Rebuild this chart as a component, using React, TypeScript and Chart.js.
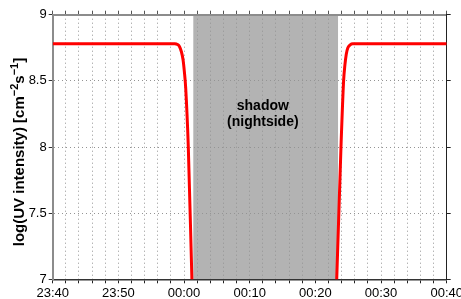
import React, { useEffect, useRef } from 'react';
import { Chart, registerables } from 'chart.js';
Chart.register(...registerables);

// minutes since 23:40
const times = [0, 10, 18.6, 19.0, 19.3, 19.6, 19.85, 20.05, 20.25, 20.65, 21.2, 21.5, 43.0, 43.25, 43.9, 44.3, 44.5, 44.7, 44.95, 45.3, 45.7, 50, 60];
const logUV = [8.78, 8.78, 8.78, 8.775, 8.76, 8.72, 8.66, 8.57, 8.45, 8.0, 7.0, 6.5, 6.5, 7.0, 8.0, 8.5, 8.62, 8.7, 8.75, 8.772, 8.78, 8.78, 8.78];
const xTickLabels = ['23:40', '23:50', '00:00', '00:10', '00:20', '00:30', '00:40'];
const yTickValues = [7, 7.5, 8, 8.5, 9];
const shadowRange = [21.41, 43.45];
const annotationLines = ['shadow', '(nightside)'];
const annotationX = 32;
const annotationY = [8.31, 8.185];

const FONT = "'Liberation Sans', Arial, Helvetica, sans-serif";

const decoPlugin = {
  id: 'deco',
  beforeDraw(chart: any) {
    const { ctx, chartArea, scales } = chart;
    ctx.save();
    ctx.fillStyle = '#ffffff';
    ctx.fillRect(0, 0, chart.width, chart.height);
    const x0 = scales.x.getPixelForValue(shadowRange[0]);
    const x1 = scales.x.getPixelForValue(shadowRange[1]);
    ctx.fillStyle = '#b3b3b3';
    ctx.fillRect(x0, chartArea.top, x1 - x0, chartArea.bottom - chartArea.top);
    ctx.restore();
  },
  afterDraw(chart: any) {
    const { ctx, chartArea, scales } = chart;
    ctx.save();
    ctx.fillStyle = '#000';
    ctx.font = `bold 14px ${FONT}`;
    ctx.textAlign = 'center';
    ctx.textBaseline = 'middle';
    annotationLines.forEach((t, i) => {
      ctx.fillText(t, scales.x.getPixelForValue(annotationX), scales.y.getPixelForValue(annotationY[i]));
    });
    // y axis title with superscripts
    const parts: [string, boolean][] = [
      ['log(UV intensity) [cm', false],
      ['\u22122', true],
      ['s', false],
      ['\u22121', true],
      [']', false],
    ];
    const mainFont = `bold 15px ${FONT}`;
    const supFont = `bold 11px ${FONT}`;
    let total = 0;
    parts.forEach(([t, sup]) => {
      ctx.font = sup ? supFont : mainFont;
      total += ctx.measureText(t).width;
    });
    const cy = (chartArea.top + chartArea.bottom) / 2 + 5;
    ctx.translate(24, cy);
    ctx.rotate(-Math.PI / 2);
    ctx.textAlign = 'left';
    ctx.textBaseline = 'alphabetic';
    let x = -total / 2;
    parts.forEach(([t, sup]) => {
      ctx.font = sup ? supFont : mainFont;
      ctx.fillText(t, x, sup ? -6 : 0);
      x += ctx.measureText(t).width;
    });
    ctx.restore();
  },
};

export default function App() {
  const ref = useRef<HTMLCanvasElement>(null);
  useEffect(() => {
    document.body.style.margin = '0';
    document.body.style.overflow = 'hidden';
    const fixX = (h: number) => (s: any) => {
      s.height = h;
      s.paddingLeft = 0;
      s.paddingRight = 0;
    };
    const fixY = (w: number) => (s: any) => {
      s.width = w;
      s.paddingTop = 0;
      s.paddingBottom = 0;
    };
    const gridDotted = { color: '#949494', lineWidth: 1, drawOnChartArea: true };
    const chart = new Chart(ref.current!, {
      type: 'line',
      data: {
        datasets: [
          {
            data: times.map((t, i) => ({ x: t, y: logUV[i] })),
            borderColor: '#ff0000',
            borderWidth: 3,
            pointRadius: 0,
            cubicInterpolationMode: 'monotone',
            fill: false,
          },
        ],
      },
      plugins: [decoPlugin],
      options: {
        animation: false,
        responsive: false,
        devicePixelRatio: 1,
        layout: { padding: 0 },
        plugins: { legend: { display: false }, tooltip: { enabled: false } },
        scales: {
          x: {
            type: 'linear',
            position: 'bottom',
            min: 0,
            max: 60,
            afterFit: fixX(19.7),
            afterBuildTicks: (s: any) => {
              s.ticks = [];
              for (let v = 0; v <= 60; v += 2) s.ticks.push({ value: v });
            },
            ticks: {
              autoSkip: false,
              maxRotation: 0,
              padding: 2,
              color: '#000',
              font: { family: FONT, size: 13 },
              callback: (v: any) => (v % 10 === 0 ? xTickLabels[v / 10] : ''),
            },
            grid: { ...gridDotted, tickLength: 4, tickColor: '#222', tickWidth: 1 },
            border: { color: '#333', width: 1.5, dash: [1, 3] },
          },
          x2: {
            type: 'linear',
            position: 'top',
            min: 0,
            max: 60,
            afterFit: fixX(14.7),
            afterBuildTicks: (s: any) => {
              s.ticks = [];
              for (let v = 0; v <= 60; v += 2) s.ticks.push({ value: v });
            },
            ticks: { display: false },
            grid: { drawOnChartArea: false, tickLength: 4, tickColor: '#555', tickWidth: 1 },
            border: { color: '#8c8c8c', width: 2 },
          },
          y: {
            type: 'linear',
            position: 'left',
            min: 7,
            max: 9,
            afterFit: fixY(52.7),
            afterBuildTicks: (s: any) => {
              s.ticks = yTickValues.map((v) => ({ value: v }));
            },
            ticks: {
              padding: 2,
              color: '#000',
              font: { family: FONT, size: 13 },
              callback: (v: any) => String(v),
            },
            grid: { ...gridDotted, tickLength: 4, tickColor: '#333', tickWidth: 1 },
            border: { color: '#8c8c8c', width: 2, dash: [1, 3] },
          },
          y2: {
            type: 'linear',
            position: 'right',
            min: 7,
            max: 9,
            afterFit: fixY(14.3),
            afterBuildTicks: (s: any) => {
              s.ticks = yTickValues.map((v) => ({ value: v }));
            },
            ticks: { display: false },
            grid: { drawOnChartArea: false, tickLength: 4, tickColor: '#222', tickWidth: 1 },
            border: { color: '#222', width: 1 },
          },
        },
      },
    } as any);
    return () => chart.destroy();
  }, []);
  return (
    <div style={{ position: 'fixed', left: 0, top: 0, width: 461, height: 299 }}>
      <canvas ref={ref} width={461} height={299} />
    </div>
  );
}
